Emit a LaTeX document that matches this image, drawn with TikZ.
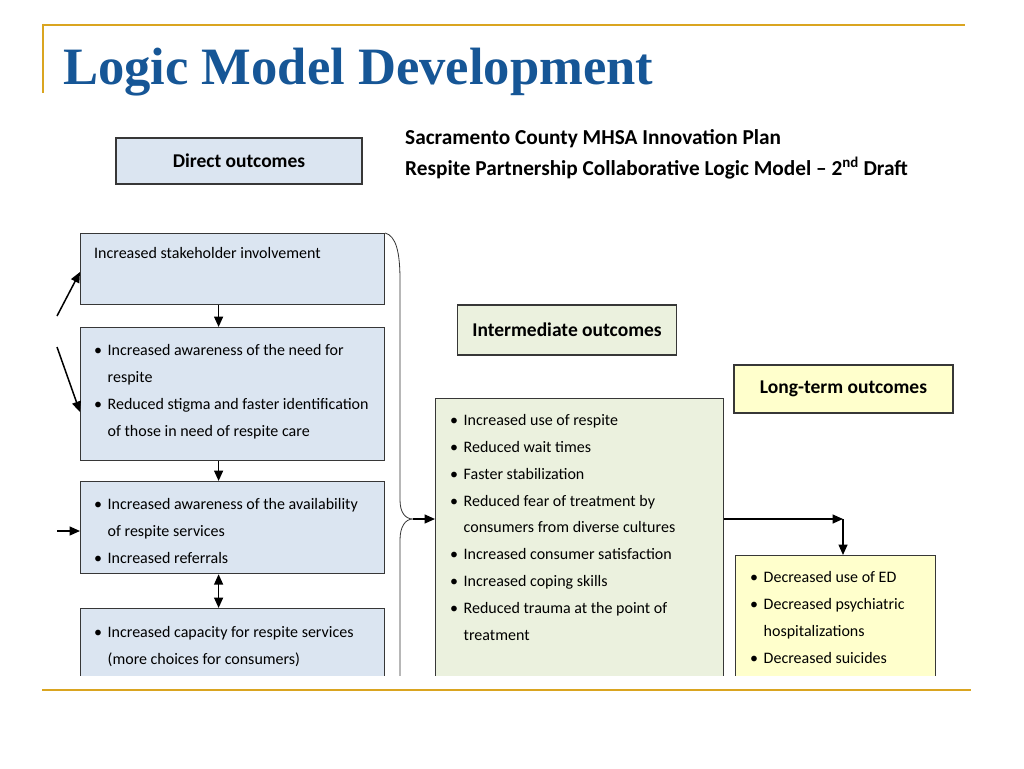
\documentclass[tikz,border=0pt]{standalone}
\usepackage{fontspec}
\setmainfont{Carlito}
\newfontfamily\titlefont{Liberation Serif}
\usetikzlibrary{arrows.meta}
\definecolor{gold}{RGB}{218,165,32}
\definecolor{titleblue}{RGB}{22,86,150}
\definecolor{boxline}{RGB}{55,55,55}
\definecolor{bluefill}{RGB}{219,229,241}
\definecolor{greenfill}{RGB}{235,241,222}
\definecolor{yellowfill}{RGB}{255,255,204}
\newcommand\bu{\makebox[13.5pt][l]{\textbullet}}
\newcommand\ind{\hspace*{13.5pt}}
\begin{document}
\begin{tikzpicture}[x=1pt,y=-1pt,
  goldline/.style={draw=gold,line width=2pt},
  box/.style={draw=boxline,line width=1.2pt,inner sep=0pt,anchor=north west},
  hdr/.style={draw=boxline,line width=1.2pt,inner sep=0pt,font=\bfseries\fontsize{19.5}{22}\selectfont},
  txt/.style={anchor=north west,inner sep=0pt,align=left,text=black,font=\fontsize{16}{26.9}\selectfont},
  arr/.style={draw=black,line width=1.5pt,-{Triangle[length=10.5pt,width=9pt]}},
  darr/.style={draw=black,line width=1.5pt,{Triangle[length=10.5pt,width=9pt]}-{Triangle[length=10.5pt,width=9pt]}},
  brace/.style={draw=black!80,line width=0.8pt}]
\useasboundingbox[fill=white] (0,0) rectangle (1024,768);
% frame lines
\draw[goldline] (42,25) -- (965,25);
\draw[goldline] (43,24) -- (43,93);
\draw[goldline] (42,690) -- (971,690);
% title
\node[anchor=north west,inner sep=0pt,text=titleblue] (title) at (63,48)
  {\resizebox*{590pt}{48pt}{\titlefont\bfseries Logic Model Development}};
% subtitle
\node[anchor=west,inner sep=0pt,align=left,font=\bfseries\fontsize{21.3}{31}\selectfont] (sub) at (405,154)
  {Sacramento County MHSA Innovation Plan\\Respite Partnership Collaborative Logic Model -- 2\textsuperscript{nd} Draft};
% headers
\node[hdr,fill=bluefill,minimum width=246pt,minimum height=46pt] (dh) at (239,161) {Direct outcomes};
\node[hdr,fill=greenfill,minimum width=219pt,minimum height=50pt] (ih) at (567,330) {Intermediate outcomes};
\node[hdr,fill=yellowfill,minimum width=219pt,minimum height=48pt] (lh) at (843.5,389) {Long-term outcomes};
% direct outcome boxes
\node[box,fill=bluefill,minimum width=304pt,minimum height=71pt] (d1) at (80,233) {};
\node[box,fill=bluefill,minimum width=304pt,minimum height=133pt] (d2) at (80,327) {};
\node[box,fill=bluefill,minimum width=304pt,minimum height=92pt] (d3) at (80,481) {};
\begin{scope}
\clip (0,0) rectangle (1024,675);
\node[box,fill=bluefill,minimum width=304pt,minimum height=120pt] (d4) at (80,608) {};
\node[box,fill=greenfill,minimum width=288pt,minimum height=320pt] (im) at (435,398) {};
\node[box,fill=yellowfill,minimum width=200pt,minimum height=160pt] (lt) at (735,555) {};
\coordinate (tip) at (413,519);
\draw[brace] (d1.north east) .. controls (396,236) and (400,252) .. (400,280)
  -- (400,500) .. controls (400,512) and (405,519) .. (tip)
  .. controls (405,519) and (400,527) .. (400,540) -- (400,700);
\end{scope}
% texts
\node[txt] (t1) at (94,247) {Increased stakeholder involvement};
\node[txt] (t2) at (94,344) {\bu Increased awareness of the need for\\\ind respite\\\bu Reduced stigma and faster identification\\\ind of those in need of respite care};
\node[txt] (t3) at (94,498) {\bu Increased awareness of the availability\\\ind of respite services\\\bu Increased referrals};
\node[txt] (t4) at (94,626) {\bu Increased capacity for respite services\\\ind (more choices for consumers)};
\node[txt] (t5) at (450,414) {\bu Increased use of respite\\\bu Reduced wait times\\\bu Faster stabilization\\\bu Reduced fear of treatment by\\\ind consumers from diverse cultures\\\bu Increased consumer satisfaction\\\bu Increased coping skills\\\bu Reduced trauma at the point of\\\ind treatment};
\node[txt] (t6) at (750,571) {\bu Decreased use of ED\\\bu Decreased psychiatric\\\ind hospitalizations\\\bu Decreased suicides};
% connectors
\draw[arr] ([xshift=-14pt]d1.south) -- ([xshift=-14pt]d2.north);
\draw[arr] ([xshift=-14pt]d2.south) -- ([xshift=-14pt]d3.north);
\draw[darr] ([xshift=-14pt]d3.south) -- ([xshift=-14pt]d4.north);
\coordinate (a1) at (57,316);
\coordinate (a2) at (57,347);
\coordinate (a3) at (57,531);
\draw[arr] (a1) -- (d1.west |- 0,272);
\draw[arr] (a2) -- (d2.west |- 0,412);
\draw[arr] (a3) -- (d3.west |- a3);
\draw[arr] (tip) -- (im.west |- tip);
\coordinate (corner) at (843,519);
\draw[arr] (im.east |- tip) -- (corner);
\draw[arr] (corner) -- (corner |- lt.north);
\end{tikzpicture}
\end{document}
